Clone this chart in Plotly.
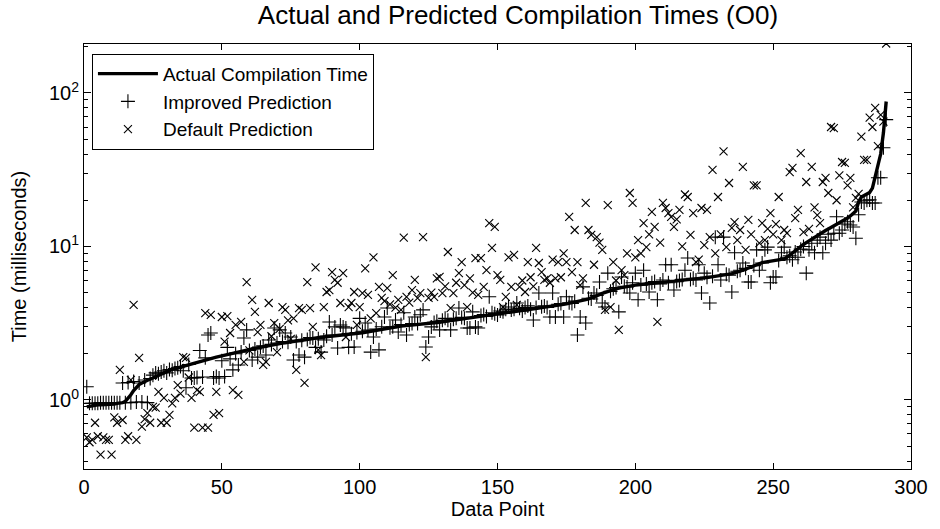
import plotly.graph_objects as go

# ---------------- data ----------------
actual = [
    0.90, 0.91, 0.92, 0.92, 0.93, 0.93, 0.93, 0.93, 0.94, 0.94, 0.94, 0.95, 0.95, 0.96,
    0.98, 1.02, 1.08, 1.15, 1.21, 1.26, 1.29,
    1.32, 1.35, 1.37, 1.39, 1.41, 1.44, 1.47, 1.50, 1.53,
    1.56, 1.58, 1.60, 1.62, 1.64, 1.66, 1.68, 1.70, 1.72, 1.74,
    1.76, 1.78, 1.80, 1.82, 1.84, 1.86, 1.88, 1.90, 1.92, 1.94,
    1.95, 1.97, 1.99, 2.01, 2.03, 2.05, 2.07, 2.09, 2.11, 2.13,
    2.15, 2.17, 2.19, 2.21, 2.23, 2.25, 2.27, 2.29, 2.30, 2.32,
    2.33, 2.35, 2.36, 2.38, 2.39, 2.41, 2.42, 2.44, 2.45, 2.47,
    2.48, 2.50, 2.51, 2.53, 2.54, 2.56, 2.57, 2.58, 2.59, 2.60,
    2.61, 2.62, 2.63, 2.64, 2.65, 2.66, 2.67, 2.68, 2.70, 2.72,
    2.74, 2.76, 2.78, 2.80, 2.83, 2.86, 2.88, 2.90, 2.93, 2.95,
    2.97, 2.99, 3.01, 3.02, 3.03, 3.04, 3.05, 3.06, 3.07, 3.08,
    3.09, 3.10, 3.11, 3.12, 3.13, 3.15, 3.17, 3.19, 3.21, 3.23,
    3.25, 3.27, 3.29, 3.31, 3.33, 3.35, 3.37, 3.39, 3.41, 3.43,
    3.45, 3.47, 3.49, 3.51, 3.53, 3.55, 3.57, 3.59, 3.62, 3.65,
    3.68, 3.71, 3.73, 3.75, 3.77, 3.79, 3.81, 3.83, 3.85, 3.87,
    3.89, 3.91, 3.93, 3.95, 3.97, 3.99, 4.01, 4.03, 4.05, 4.08,
    4.11, 4.14, 4.17, 4.20, 4.23, 4.26, 4.29, 4.32, 4.36, 4.40,
    4.45, 4.50, 4.56, 4.62, 4.70, 4.78, 4.86, 4.94, 5.02, 5.10,
    5.18, 5.24, 5.30, 5.35, 5.40, 5.44, 5.48, 5.52, 5.56, 5.60,
    5.63, 5.66, 5.69, 5.72, 5.75, 5.78, 5.80, 5.82, 5.84, 5.86,
    5.88, 5.90, 5.92, 5.94, 5.96, 5.98, 6.00, 6.03, 6.06, 6.09,
    6.12, 6.15, 6.18, 6.21, 6.24, 6.27, 6.30, 6.34, 6.38, 6.42,
    6.46, 6.50, 6.55, 6.60, 6.66, 6.72, 6.80, 6.90, 7.00, 7.12,
    7.24, 7.36, 7.48, 7.60, 7.72, 7.84, 7.90, 7.95, 8.00, 8.05,
    8.10, 8.15, 8.20, 8.30, 8.50, 8.80, 9.10, 9.40, 9.70, 10.0,
    10.3, 10.6, 10.9, 11.2, 11.5, 11.8, 12.1, 12.4, 12.7, 13.0,
    13.3, 13.6, 13.9, 14.2, 14.5, 14.9, 15.3, 15.8, 16.3, 17.0,
    19.5, 21.0, 21.5, 22.0, 22.5, 24.0, 28.0, 33.0, 40.0, 55.0, 88.0,
]

improved = [
    1.22, 0.95, 0.95, 0.95, 0.95, 0.96, 0.96, 0.96, 0.96, 0.96,
    0.96, 0.96, 0.96, 1.29, 0.96, 1.30, 0.96, 1.32, 0.97, 1.29,
    0.97, 1.35, 0.96, 1.38, 1.45, 1.50, 1.48, 1.52, 1.55, 1.50,
    1.58, 1.56, 1.60, 1.62, 1.65, 1.55, 1.20, 1.70, 1.39, 1.39,
    1.40, 2.10, 1.41, 1.88, 2.65, 2.73, 1.39, 1.42, 1.39, 1.80,
    1.42, 2.20, 1.85, 1.57, 2.00, 1.69, 2.05, 2.53, 2.86, 2.10,
    1.82, 2.15, 1.90, 2.20, 2.25, 1.96, 2.46, 2.30, 2.94, 2.35,
    2.86, 2.40, 2.73, 2.38, 2.57, 1.82, 2.40, 1.96, 2.45, 1.90,
    2.48, 2.55, 2.53, 2.20, 2.50, 2.05, 2.46, 2.60, 3.22, 2.65,
    2.99, 2.18, 3.08, 2.99, 2.94, 2.20, 2.70, 2.21, 2.75, 3.40,
    2.80, 3.17, 2.85, 2.05, 2.57, 2.90, 2.12, 3.00, 3.47, 3.97,
    2.95, 3.00, 3.32, 2.77, 3.10, 3.70, 2.65, 3.10, 3.15, 3.47,
    3.15, 3.59, 3.86, 2.21, 2.57, 2.99, 3.20, 3.25, 2.86, 3.30,
    3.40, 3.30, 2.86, 3.35, 3.40, 3.97, 3.45, 3.40, 2.94, 2.94,
    3.75, 2.99, 2.94, 3.55, 3.60, 3.50, 4.70, 3.70, 3.65, 3.58,
    3.80, 3.75, 3.90, 4.03, 3.85, 3.90, 4.28, 3.95, 3.80, 4.00,
    4.10, 3.90, 3.32, 4.00, 4.97, 4.05, 4.10, 4.00, 3.47, 4.97,
    3.47, 4.20, 4.25, 3.47, 4.70, 4.30, 4.25, 4.40, 2.65, 3.47,
    5.45, 3.17, 4.60, 4.55, 4.97, 4.80, 5.87, 4.28, 4.03, 6.70,
    5.10, 5.30, 5.40, 3.75, 6.33, 5.50, 5.45, 4.97, 5.80, 6.70,
    4.49, 5.60, 7.00, 5.70, 5.05, 5.80, 5.90, 4.49, 5.70, 6.05,
    7.60, 5.80, 7.60, 5.20, 5.90, 6.00, 6.10, 7.00, 8.40, 6.10,
    6.20, 6.05, 7.60, 4.97, 6.70, 6.30, 4.28, 6.40, 11.5, 7.60,
    6.05, 11.5, 6.60, 6.50, 5.05, 9.10, 6.90, 7.00, 7.80, 7.20,
    5.87, 5.87, 7.50, 9.50, 7.00, 7.80, 9.50, 9.90, 5.80, 6.33,
    6.33, 8.10, 9.10, 9.90, 8.50, 8.70, 8.20, 9.20, 8.50, 9.60,
    10.0, 6.70, 9.50, 10.5, 9.10, 11.0, 11.5, 9.10, 10.5, 12.0,
    11.0, 12.2, 15.6, 12.2, 12.8, 14.0, 14.5, 13.8, 13.4, 11.3,
    16.1, 19.5, 19.2, 20.0, 20.1, 19.2, 19.2, 28.0, 28.0, 44.0, 67.0,
]

default = [
    0.57, 0.53, 0.55, 0.71, 0.58, 0.44, 0.57, 0.55, 0.55, 0.44,
    0.77, 0.71, 1.57, 0.74, 0.55, 0.58, 1.35, 4.16, 0.55, 1.88,
    0.67, 0.75, 0.82, 0.71, 0.90, 0.89, 1.13, 0.71, 1.03, 0.71,
    0.80, 0.95, 1.03, 1.25, 1.10, 1.90, 1.88, 1.40, 1.03, 0.66,
    1.16, 1.13, 0.66, 3.68, 0.66, 3.58, 0.80, 1.13, 0.82, 3.47,
    2.40, 3.52, 2.73, 1.16, 3.08, 1.08, 3.22, 1.77, 5.86, 2.10,
    4.49, 3.75, 2.77, 3.08, 1.69, 1.77, 4.28, 2.60, 3.17, 2.05,
    2.90, 4.03, 3.86, 3.30, 2.50, 3.40, 1.57, 3.97, 3.86, 1.29,
    5.86, 3.97, 2.99, 7.30, 2.12, 1.96, 4.03, 5.05, 5.20, 6.80,
    6.05, 5.80, 4.28, 6.70, 2.57, 4.03, 4.28, 5.05, 3.08, 4.03,
    4.97, 7.20, 4.83, 3.40, 8.50, 3.68, 5.45, 4.63, 4.40, 5.36,
    4.20, 6.50, 4.00, 4.49, 3.86, 11.4, 4.70, 4.30, 5.20, 6.05,
    4.60, 4.97, 11.5, 1.90, 4.63, 5.00, 4.70, 6.20, 6.33, 4.97,
    5.50, 9.20, 3.97, 4.97, 5.80, 6.70, 7.90, 5.60, 4.03, 6.20,
    5.00, 8.40, 4.83, 8.40, 5.45, 7.00, 14.2, 9.80, 13.4, 6.50,
    6.05, 4.03, 4.70, 8.50, 5.45, 8.80, 4.16, 5.45, 6.00, 5.05,
    7.90, 6.30, 5.50, 9.80, 7.80, 6.80, 6.05, 6.20, 5.80, 8.20,
    6.20, 7.90, 6.30, 9.00, 7.90, 15.6, 6.80, 12.8, 7.90, 5.60,
    6.20, 19.2, 12.8, 11.9, 7.60, 11.5, 10.6, 9.50, 3.86, 18.6,
    4.03, 7.90, 6.00, 2.86, 7.00, 6.50, 9.00, 22.3, 19.2, 8.50,
    11.0, 9.00, 14.2, 9.90, 12.0, 16.8, 13.4, 3.22, 10.6, 19.2,
    17.8, 16.5, 15.6, 13.4, 15.0, 17.3, 10.0, 21.8, 21.0, 11.9,
    16.5, 7.90, 8.20, 17.8, 10.2, 17.3, 11.5, 31.5, 9.00, 21.0,
    12.0, 41.6, 9.90, 25.9, 13.2, 14.4, 11.0, 12.8, 33.0, 9.50,
    14.9, 12.0, 25.0, 25.0, 10.5, 14.2, 11.0, 13.0, 16.5, 12.0,
    14.0, 21.0, 11.0, 12.8, 12.2, 30.5, 32.5, 15.3, 17.3, 40.5,
    12.4, 26.3, 13.0, 33.0, 18.0, 16.0, 14.2, 26.3, 28.0, 22.3,
    60.0, 59.0, 20.0, 29.0, 35.5, 35.0, 25.0, 28.0, 18.0, 20.7,
    22.0, 52.0, 36.6, 36.6, 69.0, 60.0, 80.0, 45.0, 72.0, 65.0, 210.0,
]

points = list(range(1, len(actual) + 1))

title_text = "Actual and Predicted Compilation Times (O0)"
x_title = "Data Point"
y_title = "Time (milliseconds)"
x_ticks = [0, 50, 100, 150, 200, 250, 300]
y_ticks = [1, 10, 100]
y_tick_text = ["10<sup>0</sup>", "10<sup>1</sup>", "10<sup>2</sup>"]
minor_ticks = [m * 10 ** e for e in (-1, 0, 1, 2) for m in range(2, 10)]

# ---------------- figure ----------------
FONT = "Liberation Sans, Arial, Helvetica, sans-serif"

fig = go.Figure()
fig.add_trace(go.Scatter(
    x=points, y=actual, mode="lines", name="Actual Compilation Time",
    line=dict(color="black", width=3.4),
))
fig.add_trace(go.Scatter(
    x=points, y=improved, mode="markers", name="Improved Prediction",
    marker=dict(symbol="cross-thin", size=10, color="black",
                line=dict(color="black", width=1.1)),
))
fig.add_trace(go.Scatter(
    x=points, y=default, mode="markers", name="Default Prediction",
    marker=dict(symbol="x-thin", size=8, color="black",
                line=dict(color="black", width=1.1)),
))

fig.update_layout(
    width=940, height=529,
    paper_bgcolor="white", plot_bgcolor="white",
    margin=dict(l=84, r=22, t=44, b=60),
    font=dict(family=FONT, size=20, color="black"),
    title=dict(text=title_text, x=0.551, xanchor="center", y=0.972, yanchor="middle",
               font=dict(family=FONT, size=26, color="black")),
    showlegend=True,
    legend=dict(x=0.0096, y=0.977, xanchor="left", yanchor="top",
                bgcolor="white", bordercolor="black", borderwidth=1,
                font=dict(family=FONT, size=19, color="black"),
                itemwidth=60, tracegroupgap=0),
)

fig.update_xaxes(
    range=[0, 300], tickvals=x_ticks, ticks="inside", ticklen=6, tickwidth=1,
    tickcolor="black", showline=True, linecolor="black", linewidth=1,
    mirror="allticks", showgrid=False, zeroline=False,
    title=dict(text=x_title, standoff=0, font=dict(family=FONT, size=20)),
    tickfont=dict(family=FONT, size=20),
)

fig.update_yaxes(
    type="log", range=[-0.45, 2.319],
    tickvals=y_ticks, ticktext=y_tick_text,
    ticks="inside", ticklen=7, tickwidth=1, tickcolor="black",
    showline=True, linecolor="black", linewidth=1, mirror="allticks",
    showgrid=False, zeroline=False,
    minor=dict(tickvals=minor_ticks, ticks="inside", ticklen=4, tickcolor="black",
               showgrid=False),
    title=dict(text=y_title, standoff=16, font=dict(family=FONT, size=20)),
    tickfont=dict(family=FONT, size=20),
)

fig.write_html("out.html")
